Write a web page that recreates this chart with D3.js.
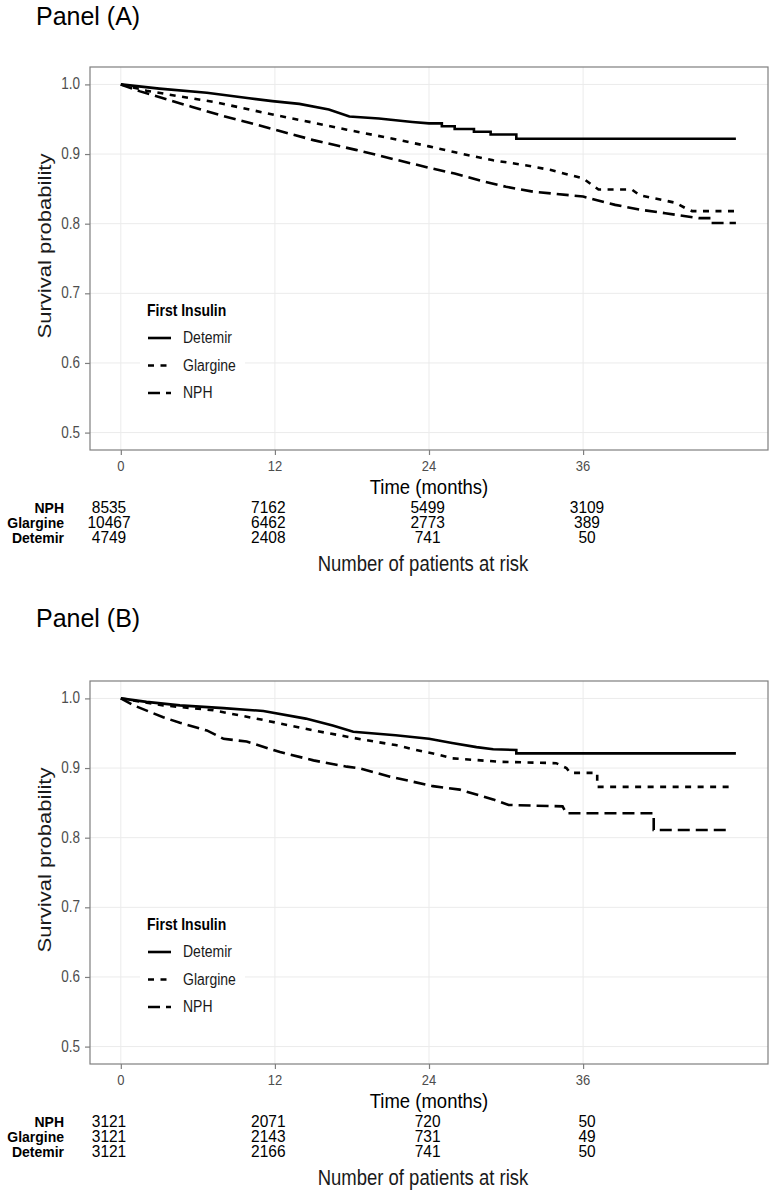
<!DOCTYPE html>
<html>
<head>
<meta charset="utf-8">
<script src="https://cdn.jsdelivr.net/npm/d3@7"></script>
<style>
  body { margin: 0; background: #fff; }
  text { font-family: 'Liberation Sans', Arial, sans-serif; }
</style>
</head>
<body>
<div id="chart"></div>
<script>
const timeTicks = [0, 12, 24, 36]
const survTicks = [0.5, 0.6, 0.7, 0.8, 0.9, 1.0]
const legendGroups = ['Detemir', 'Glargine', 'NPH']
const riskGroups = ['NPH', 'Glargine', 'Detemir']

// panel A: [month, survival]
const detemirA = [[0, 1], [3, 0.994], [6.7, 0.988], [10, 0.98], [11.8, 0.976], [13.9, 0.972], [16.2, 0.964], [17.8, 0.954], [20.1, 0.951], [22.7, 0.946], [24, 0.944], [25, 0.944], [25, 0.94], [26, 0.94], [26, 0.936], [27.5, 0.936], [27.5, 0.932], [28.8, 0.932], [28.8, 0.928], [30.8, 0.928], [30.8, 0.922], [47.9, 0.922]]
const glargineA = [[0, 1], [2, 0.991], [4.5, 0.983], [7.2, 0.975], [9.5, 0.966], [12, 0.956], [15, 0.945], [17.6, 0.935], [21.7, 0.92], [24, 0.911], [26.9, 0.899], [29, 0.891], [31.5, 0.884], [33.5, 0.877], [36, 0.865], [37.2, 0.849], [39.8, 0.849], [40.4, 0.841], [43.2, 0.83], [44, 0.822], [44.5, 0.818], [47.9, 0.818]]
const nphA = [[0, 1], [1.5, 0.99], [3.3, 0.98], [5.5, 0.968], [7.7, 0.956], [10, 0.945], [12, 0.935], [15, 0.92], [18.3, 0.906], [21.4, 0.892], [24.3, 0.879], [26, 0.872], [28.2, 0.861], [30, 0.853], [32.1, 0.846], [36, 0.839], [38.5, 0.827], [40.5, 0.82], [42.4, 0.815], [45, 0.808], [46, 0.808], [46, 0.801], [47.9, 0.801]]

// panel B
const detemirB = [[0, 1], [2, 0.995], [4.6, 0.99], [8, 0.986], [11.1, 0.982], [14.4, 0.971], [16.5, 0.961], [18.1, 0.952], [21.4, 0.947], [24, 0.942], [25.8, 0.936], [27.7, 0.93], [29, 0.927], [30.8, 0.926], [30.8, 0.921], [47.9, 0.921]]
const glargineB = [[0, 1], [3.3, 0.99], [7.2, 0.983], [11.1, 0.969], [15, 0.954], [18.8, 0.941], [21.4, 0.933], [23, 0.926], [24.8, 0.919], [25.8, 0.914], [29.5, 0.909], [33.9, 0.907], [34.7, 0.9], [35, 0.893], [37.1, 0.893], [37.1, 0.873], [47.4, 0.873]]
const nphB = [[0, 1], [1, 0.99], [3.3, 0.973], [4.6, 0.965], [6.7, 0.954], [8, 0.942], [9.8, 0.938], [12.4, 0.923], [15, 0.911], [17.6, 0.902], [18.6, 0.8995], [20.9, 0.888], [24.3, 0.874], [26.4, 0.869], [29, 0.855], [30.2, 0.847], [34.4, 0.845], [34.7, 0.835], [41.5, 0.835], [41.5, 0.811], [47.2, 0.811]]

// numbers at risk, at timeTicks
const riskA_NPH = [8535, 7162, 5499, 3109]
const riskA_Glargine = [10467, 6462, 2773, 389]
const riskA_Detemir = [4749, 2408, 741, 50]
const riskB_NPH = [3121, 2071, 720, 50]
const riskB_Glargine = [3121, 2143, 731, 49]
const riskB_Detemir = [3121, 2166, 741, 50]

const dashes = {Detemir: null, Glargine: '6,6.5', NPH: '12,6'}
const W = 773, H = 1200
const SY = 1.16 // the source picture is stretched vertically

const svg = d3.select('#chart').append('svg')
  .attr('width', W)
  .attr('height', H)

const x = d3.scaleLinear().domain([-2.4, 50.4]).range([90, 768])
const y = d3.scaleLinear().domain([0.475, 1.025]).range([450, 67])
const xRisk = d3.scaleLinear().domain([0, 36]).range([109, 587])

function txt (g, px, py, s, size, opts = {}) {
  let sy = opts.sy || SY
  let t = g.append('text')
    .attr('transform', `translate(${px},${py}) scale(1,${sy})` + (opts.rotate ? ` rotate(${opts.rotate})` : ''))
    .attr('font-size', size)
    .attr('fill', opts.fill || '#000')
    .attr('text-anchor', opts.anchor || 'start')
    .attr('font-weight', opts.bold ? 'bold' : 'normal')
    .text(s)
  return t
}

function drawPanel (offY, title, titleY, curves, risk) {
  let g = svg.append('g').attr('transform', `translate(0,${offY})`)

  txt(g, 36, titleY, title, 25, {sy: 1.05})

  // grid
  g.append('g').selectAll('line.gx')
    .data(timeTicks).enter().append('line')
    .attr('x1', d => x(d)).attr('x2', d => x(d))
    .attr('y1', y.range()[1]).attr('y2', y.range()[0])
    .attr('stroke', '#ebebeb')
  g.append('g').selectAll('line.gy')
    .data(survTicks).enter().append('line')
    .attr('y1', d => y(d)).attr('y2', d => y(d))
    .attr('x1', x.range()[0]).attr('x2', x.range()[1])
    .attr('stroke', '#ebebeb')

  // axes
  let xAxis = g.append('g')
    .attr('transform', `translate(0,${y.range()[0]})`)
    .call(d3.axisBottom(x).tickValues(timeTicks).tickSize(5).tickFormat(''))
  let yAxis = g.append('g')
    .attr('transform', `translate(${x.range()[0]},0)`)
    .call(d3.axisLeft(y).tickValues(survTicks).tickSize(5).tickFormat(''))
  ;[xAxis, yAxis].forEach(a => {
    a.select('.domain').remove()
    a.selectAll('line').attr('stroke', '#7f7f7f').attr('stroke-width', 1.2)
  })
  timeTicks.forEach(d => txt(g, x(d), 471, d, 13, {anchor: 'middle', fill: '#4d4d4d'}))
  survTicks.forEach(d => txt(g, 80, y(d) + 5, d.toFixed(1), 13.5, {anchor: 'end', fill: '#4d4d4d'}))

  // legend box
  g.append('rect')
    .attr('x', 140).attr('y', 297).attr('width', 105).attr('height', 108)
    .attr('fill', '#fff')
  txt(g, 147, 316, 'First Insulin', 14, {bold: true})
  legendGroups.forEach((k, i) => {
    let ly = 338 + i * 27.5
    g.append('line')
      .attr('x1', 148).attr('x2', 171).attr('y1', ly).attr('y2', ly)
      .attr('stroke', '#000').attr('stroke-width', 2.6)
      .attr('stroke-dasharray', dashes[k])
    txt(g, 183, ly + 5, k, 14, {fill: '#1a1a1a'})
  })

  // curves
  let line = d3.line().x(d => x(d[0])).y(d => y(d[1]))
  legendGroups.forEach(k => {
    g.append('path')
      .datum(curves[k])
      .attr('d', line)
      .attr('fill', 'none')
      .attr('stroke', '#000')
      .attr('stroke-width', 2.6)
      .attr('stroke-dasharray', dashes[k])
  })

  // border
  g.append('rect')
    .attr('x', x.range()[0]).attr('y', y.range()[1])
    .attr('width', x.range()[1] - x.range()[0])
    .attr('height', y.range()[0] - y.range()[1])
    .attr('fill', 'none').attr('stroke', '#7f7f7f').attr('stroke-width', 1.2)

  txt(g, 429, 494, 'Time (months)', 18.5, {anchor: 'middle', sy: 1.1})
  txt(g, 51, 246, 'Survival probability', 19, {anchor: 'middle', rotate: -90, fill: '#1a1a1a'})

  // risk table
  riskGroups.forEach((k, i) => {
    let ry = 513 + i * 15
    txt(g, 64, ry, k, 14, {anchor: 'end', bold: true, sy: 1.02})
    risk[k].forEach((v, j) => txt(g, xRisk(timeTicks[j]), ry, v, 15.5, {anchor: 'middle', sy: 1.02}))
  })
  txt(g, 423, 571, 'Number of patients at risk', 18.5, {anchor: 'middle', fill: '#1a1a1a'})
}

drawPanel(0, 'Panel (A)', 25,
  {Detemir: detemirA, Glargine: glargineA, NPH: nphA},
  {NPH: riskA_NPH, Glargine: riskA_Glargine, Detemir: riskA_Detemir})
drawPanel(614, 'Panel (B)', 13,
  {Detemir: detemirB, Glargine: glargineB, NPH: nphB},
  {NPH: riskB_NPH, Glargine: riskB_Glargine, Detemir: riskB_Detemir})
</script>
</body>
</html>
